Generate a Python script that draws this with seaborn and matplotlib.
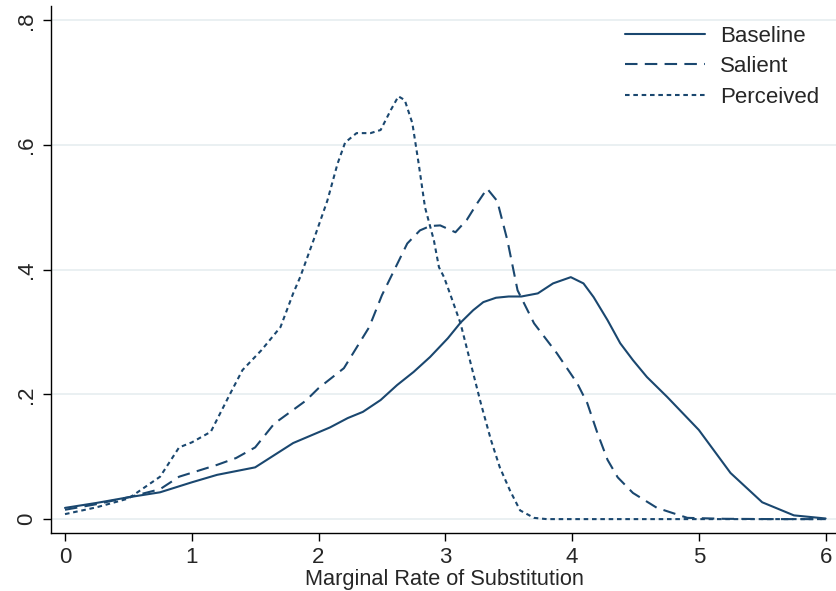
import pandas as pd
import seaborn as sns
import matplotlib.pyplot as plt

# densities
base_x = [0, 0.25, 0.5, 0.75, 1.0, 1.2, 1.5, 1.8, 2.09, 2.23, 2.35, 2.49, 2.62, 2.75, 2.88, 3.02,
          3.12, 3.22, 3.3, 3.4, 3.5, 3.6, 3.73, 3.85, 3.99, 4.09, 4.17, 4.28, 4.38, 4.48, 4.59,
          4.75, 5.0, 5.25, 5.5, 5.75, 6.0]
base_y = [0.018, 0.026, 0.035, 0.043, 0.059, 0.071, 0.083, 0.122, 0.147, 0.162, 0.172, 0.191,
          0.215, 0.236, 0.26, 0.29, 0.315, 0.335, 0.348, 0.355, 0.357, 0.357, 0.362, 0.378, 0.388,
          0.378, 0.356, 0.319, 0.282, 0.255, 0.228, 0.196, 0.143, 0.074, 0.027, 0.006, 0.001]

sal_x = [0, 0.25, 0.5, 0.75, 0.9, 1.2, 1.35, 1.5, 1.65, 1.9, 2.0, 2.2, 2.4, 2.5, 2.57, 2.7, 2.8,
         2.88, 2.96, 3.08, 3.17, 3.25, 3.33, 3.41, 3.49, 3.57, 3.7, 3.88, 4.04, 4.12, 4.2, 4.28,
         4.36, 4.48, 4.67, 4.91, 5.2, 5.6, 6.0]
sal_y = [0.015, 0.024, 0.035, 0.048, 0.068, 0.087, 0.098, 0.115, 0.153, 0.19, 0.21, 0.242, 0.308,
         0.359, 0.388, 0.442, 0.463, 0.47, 0.471, 0.46, 0.48, 0.506, 0.53, 0.51, 0.447, 0.367,
         0.314, 0.266, 0.218, 0.186, 0.138, 0.095, 0.067, 0.042, 0.018, 0.002, 0.0005, 0.0, 0.0]

per_x = [0, 0.25, 0.5, 0.75, 0.9, 1.0, 1.15, 1.3, 1.4, 1.55, 1.7, 1.8, 1.855, 1.96, 2.07, 2.15,
         2.21, 2.3, 2.41, 2.49, 2.57, 2.63, 2.68, 2.74, 2.79, 2.84, 2.91, 2.95, 2.99, 3.04, 3.12,
         3.2, 3.28, 3.36, 3.43, 3.51, 3.59, 3.7, 3.8, 4.5, 5.25, 6.0]
per_y = [0.008, 0.019, 0.033, 0.068, 0.115, 0.123, 0.14, 0.2, 0.239, 0.271, 0.308, 0.362, 0.388,
         0.447, 0.511, 0.57, 0.604, 0.619, 0.619, 0.624, 0.656, 0.678, 0.672, 0.635, 0.57, 0.50,
         0.447, 0.404, 0.388, 0.36, 0.314, 0.25, 0.186, 0.127, 0.083, 0.046, 0.014, 0.002, 0.0,
         0.0, 0.0, 0.0]

groups = ['Baseline', 'Salient', 'Perceived']
x_ticks = [0, 1, 2, 3, 4, 5, 6]
y_ticks = [0, 0.2, 0.4, 0.6, 0.8]
y_labels = ['0', '.2', '.4', '.6', '.8']

df = pd.concat([
    pd.DataFrame({'x': base_x, 'y': base_y, 'group': 'Baseline'}),
    pd.DataFrame({'x': sal_x, 'y': sal_y, 'group': 'Salient'}),
    pd.DataFrame({'x': per_x, 'y': per_y, 'group': 'Perceived'}),
])

sns.set_style('white')
plt.rcParams['font.family'] = ['Liberation Sans', 'DejaVu Sans']

navy = '#1a476f'
fig = plt.figure(figsize=(8.37, 5.91), dpi=100)
ax = fig.add_axes([0.061, 0.098, 0.939, 0.892])

ax.grid(axis='y', color='#e6eef0', linewidth=1.2)
ax.set_axisbelow(True)

sns.lineplot(data=df, x='x', y='y', style='group', style_order=groups,
             dashes={'Baseline': '', 'Salient': (6, 3.5), 'Perceived': (2.2, 1.8)},
             color=navy, linewidth=1.5, sort=False, ax=ax)

ax.set_xlim(-0.11, 6.09)
ax.set_ylim(-0.0224, 0.823)
ax.set_xticks(x_ticks)
ax.set_yticks(y_ticks)
ax.set_yticklabels(y_labels, rotation=90, va='center')
ax.tick_params(axis='both', direction='out', length=6, width=1, color='black',
               labelsize=16, left=True, bottom=True, pad=4)
ax.set_xlabel('Marginal Rate of Substitution', fontsize=15.7, labelpad=1)
ax.set_ylabel('')

for s in ['top', 'right']:
    ax.spines[s].set_visible(False)
for s in ['left', 'bottom']:
    ax.spines[s].set_color('black')
    ax.spines[s].set_linewidth(1)

leg = ax.legend(loc='upper right', frameon=False, fontsize=16, handlelength=3.6,
                handletextpad=0.7, labelspacing=0.42, bbox_to_anchor=(1.003, 1.0))
for line in leg.get_lines():
    line.set_linewidth(1.5)

fig.savefig('out.png', dpi=100)
